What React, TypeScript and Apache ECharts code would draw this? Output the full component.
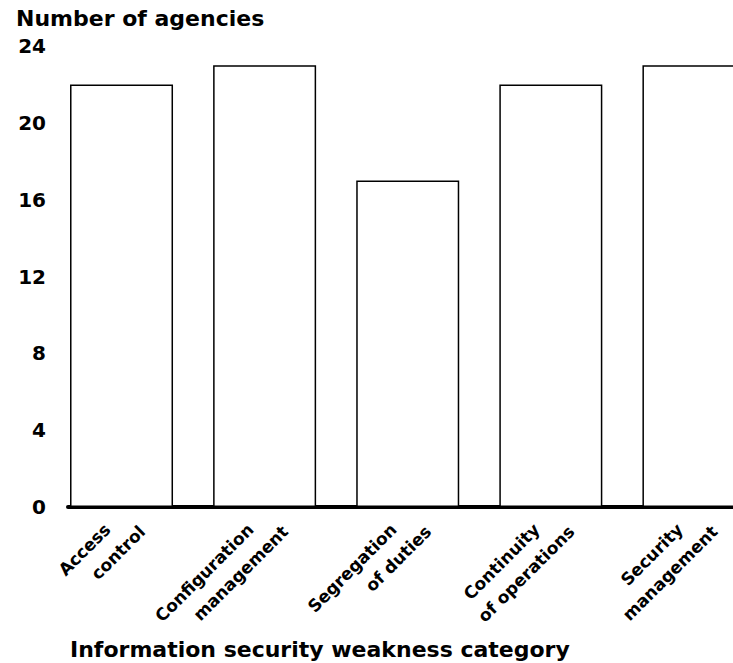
import React, { useEffect, useRef } from "react";
import * as echarts from "echarts";

const categories: string[][] = [
  ["Access", "control"],
  ["Configuration", "management"],
  ["Segregation", "of duties"],
  ["Continuity", "of operations"],
  ["Security", "management"],
];
const agencies: number[] = [22, 23, 17, 22, 23];
const yTicks: number[] = [0, 4, 8, 12, 16, 20, 24];
const yTitle = "Number of agencies";
const xTitle = "Information security weakness category";

const FONT = "DejaVu Sans";

export default function App() {
  const ref = useRef<HTMLDivElement>(null);
  useEffect(() => {
    if (!ref.current) return;
    const chart = echarts.init(ref.current, undefined, { renderer: "svg" });
    const positions = categories.map((_, i) => i);
    chart.setOption({
      animation: false,
      backgroundColor: "#ffffff",
      title: [
        {
          text: yTitle,
          left: 16,
          top: 7,
          padding: 0,
          textStyle: { fontFamily: FONT, fontWeight: "bold", fontSize: 22, color: "#000" },
        },
        {
          text: xTitle,
          left: 70,
          top: 638,
          padding: 0,
          textStyle: { fontFamily: FONT, fontWeight: "bold", fontSize: 22, color: "#000" },
        },
      ],
      grid: { left: 68, right: 0, top: 46, bottom: 156, containLabel: false },
      xAxis: {
        type: "value",
        min: -0.374,
        max: 4.273,
        axisLine: { show: true, onZero: false, lineStyle: { color: "#000", width: 4 } },
        axisTick: { show: false },
        splitLine: { show: false },
        axisLabel: {
          customValues: positions,
          rotate: 45,
          margin: -13,
          align: "right",
          verticalAlign: "top",
          padding: [0, 10, 0, 0],
          fontFamily: FONT,
          fontWeight: "bold",
          fontSize: 17,
          color: "#000",
          lineHeight: 26,
          formatter: (v: number) => {
            const c = categories[Math.round(v)];
            if (!c) return "";
            return "{a|" + c[0] + "}\n{b|" + c[1] + "}";
          },
          rich: {
            a: {
              fontFamily: FONT,
              fontWeight: "bold",
              fontSize: 17,
              color: "#000",
              lineHeight: 26,
              padding: [0, 23, 0, 0],
            },
            b: {
              fontFamily: FONT,
              fontWeight: "bold",
              fontSize: 17,
              color: "#000",
              lineHeight: 26,
            },
          },
        },
      },
      yAxis: {
        type: "value",
        min: yTicks[0],
        max: yTicks[yTicks.length - 1],
        interval: yTicks[1] - yTicks[0],
        axisLine: { show: false },
        axisTick: { show: false },
        splitLine: { show: false },
        axisLabel: {
          margin: 22,
          fontFamily: FONT,
          fontWeight: "bold",
          fontSize: 20,
          color: "#000",
        },
      },
      series: [
        {
          type: "bar",
          data: agencies.map((v, i) => [positions[i], v]),
          barWidth: 103,
          clip: true,
          itemStyle: { color: "#ffffff", borderColor: "#000", borderWidth: 1.5 },
          emphasis: { disabled: true },
        },
      ],
    });
    return () => chart.dispose();
  }, []);
  return (
    <div
      ref={ref}
      style={{ position: "fixed", left: 0, top: 0, width: 733, height: 663, background: "#fff" }}
    />
  );
}
